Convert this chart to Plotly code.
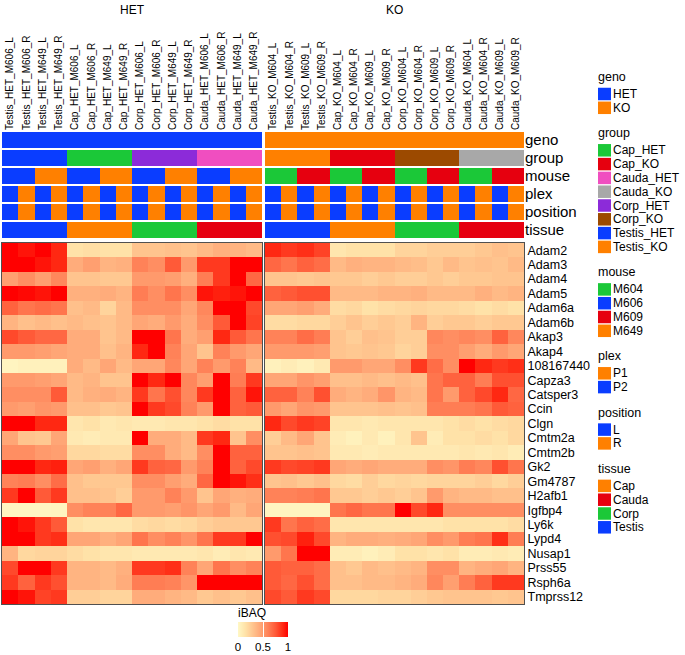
import plotly.graph_objects as go

W, H = 685, 655

# ---------------- data ----------------
tissues = ["Testis", "Cap", "Corp", "Cauda"]
het_mice = ["M606", "M649"]
ko_mice = ["M604", "M609"]
positions = ["L", "R"]
het_samples = [f"{t}_HET_{m}_{p}" for t in tissues for m in het_mice for p in positions]
ko_samples = [f"{t}_KO_{m}_{p}" for t in tissues for m in ko_mice for p in positions]

genes = ["Adam2", "Adam3", "Adam4", "Adam5", "Adam6a", "Adam6b", "Akap3", "Akap4",
         "108167440", "Capza3", "Catsper3", "Ccin", "Clgn", "Cmtm2a", "Cmtm2b", "Gk2",
         "Gm4787", "H2afb1", "Igfbp4", "Ly6k", "Lypd4", "Nusap1", "Prss55", "Rsph6a", "Tmprss12"]

# values per gene: 16 HET columns then 16 KO columns (Testis, Cap, Corp, Cauda x 4)
Adam2 = [1.0, 0.95, 1.0, 0.9, 0.15, 0.17, 0.15, 0.15, 0.3, 0.3, 0.32, 0.3, 0.35, 0.4, 0.38, 0.35,
         0.9, 0.85, 0.88, 0.82, 0.12, 0.15, 0.15, 0.15, 0.22, 0.22, 0.25, 0.25, 0.25, 0.28, 0.32, 0.3]
Adam3 = [1.0, 1.0, 0.95, 0.9, 0.42, 0.48, 0.38, 0.4, 0.6, 0.55, 0.75, 0.5, 0.85, 0.85, 1.0, 1.0,
         0.7, 0.65, 0.72, 0.68, 0.35, 0.4, 0.38, 0.38, 0.35, 0.33, 0.28, 0.35, 0.3, 0.32, 0.3, 0.35]
Adam4 = [0.48, 0.55, 0.48, 0.58, 0.3, 0.3, 0.28, 0.28, 0.5, 0.5, 0.48, 0.4, 0.62, 0.85, 1.0, 0.7,
         0.3, 0.3, 0.28, 0.3, 0.28, 0.28, 0.25, 0.28, 0.25, 0.25, 0.28, 0.25, 0.28, 0.28, 0.3, 0.3]
Adam5 = [1.0, 0.98, 0.95, 1.0, 0.4, 0.4, 0.42, 0.38, 0.62, 0.55, 0.65, 0.55, 0.95, 0.92, 0.95, 1.0,
         0.72, 0.75, 0.78, 0.78, 0.35, 0.35, 0.35, 0.38, 0.38, 0.4, 0.35, 0.35, 0.35, 0.4, 0.35, 0.38]
Adam6a = [0.72, 0.65, 0.68, 0.65, 0.32, 0.35, 0.22, 0.35, 0.55, 0.55, 0.55, 0.45, 0.58, 1.0, 1.0, 0.8,
          0.45, 0.45, 0.48, 0.42, 0.18, 0.2, 0.15, 0.18, 0.2, 0.22, 0.2, 0.2, 0.18, 0.15, 0.18, 0.15]
Adam6b = [0.38, 0.32, 0.35, 0.32, 0.35, 0.32, 0.3, 0.35, 0.45, 0.42, 0.5, 0.42, 0.55, 0.75, 1.0, 0.82,
          0.18, 0.18, 0.2, 0.2, 0.25, 0.3, 0.25, 0.28, 0.25, 0.38, 0.25, 0.28, 0.28, 0.25, 0.28, 0.28]
Akap3 = [0.8, 0.75, 0.7, 0.7, 0.42, 0.42, 0.3, 0.35, 1.0, 1.0, 0.65, 0.42, 0.48, 0.9, 0.75, 0.65,
         0.6, 0.6, 0.68, 0.62, 0.3, 0.25, 0.32, 0.3, 0.25, 0.25, 0.58, 0.55, 0.58, 0.55, 0.72, 0.58]
Akap4 = [0.5, 0.5, 0.48, 0.45, 0.42, 0.42, 0.32, 0.38, 0.9, 1.0, 0.6, 0.45, 0.3, 0.6, 0.5, 0.45,
         0.5, 0.5, 0.5, 0.48, 0.3, 0.28, 0.3, 0.28, 0.22, 0.25, 0.55, 0.55, 0.48, 0.42, 0.5, 0.45]
G108167440 = [0.03, 0.05, 0.05, 0.05, 0.42, 0.35, 0.45, 0.35, 0.45, 0.45, 0.58, 0.45, 0.6, 0.5, 0.6, 0.35,
              0.05, 0.08, 0.05, 0.1, 0.5, 0.5, 0.45, 0.45, 0.55, 0.85, 0.68, 0.55, 1.0, 0.9, 0.85, 0.88]
Capza3 = [0.5, 0.5, 0.48, 0.45, 0.35, 0.38, 0.3, 0.3, 1.0, 0.9, 1.0, 0.58, 0.48, 1.0, 0.62, 0.85,
          0.45, 0.45, 0.52, 0.48, 0.32, 0.32, 0.35, 0.32, 0.35, 0.32, 0.65, 0.72, 0.72, 0.62, 0.78, 0.78]
Catsper3 = [0.55, 0.55, 0.55, 0.75, 0.35, 0.4, 0.42, 0.38, 0.85, 0.65, 0.78, 0.58, 0.85, 1.0, 0.72, 0.95,
            0.72, 0.72, 0.6, 0.78, 0.42, 0.38, 0.42, 0.52, 0.38, 0.35, 0.65, 0.5, 0.72, 0.8, 0.9, 0.7]
Ccin = [0.5, 0.48, 0.52, 0.5, 0.32, 0.32, 0.28, 0.3, 1.0, 0.85, 0.8, 0.6, 0.5, 1.0, 0.72, 0.75,
        0.5, 0.45, 0.52, 0.5, 0.3, 0.3, 0.3, 0.32, 0.3, 0.32, 0.62, 0.62, 0.62, 0.65, 0.75, 0.72]
Clgn = [1.0, 1.0, 0.9, 0.9, 0.12, 0.15, 0.1, 0.12, 0.1, 0.1, 0.12, 0.12, 0.15, 0.18, 0.15, 0.15,
        0.9, 0.8, 0.85, 0.82, 0.12, 0.12, 0.1, 0.12, 0.12, 0.12, 0.12, 0.15, 0.18, 0.15, 0.18, 0.2]
Cmtm2a = [0.45, 0.3, 0.28, 0.45, 0.1, 0.08, 0.1, 0.1, 1.0, 0.42, 0.42, 0.35, 0.85, 0.9, 0.3, 0.55,
          0.25, 0.35, 0.45, 0.3, 0.08, 0.05, 0.1, 0.05, 0.12, 0.3, 0.08, 0.15, 0.15, 0.18, 0.15, 0.2]
Cmtm2b = [0.55, 0.55, 0.5, 0.48, 0.2, 0.2, 0.18, 0.18, 0.55, 0.55, 0.42, 0.35, 0.55, 1.0, 0.72, 0.72,
          0.3, 0.3, 0.32, 0.3, 0.1, 0.1, 0.08, 0.1, 0.1, 0.1, 0.1, 0.1, 0.12, 0.1, 0.12, 0.08]
Gk2 = [1.0, 1.0, 0.9, 0.92, 0.45, 0.48, 0.4, 0.45, 0.85, 0.72, 0.7, 0.5, 0.6, 1.0, 0.72, 0.8,
       0.85, 0.8, 0.82, 0.85, 0.45, 0.42, 0.45, 0.42, 0.42, 0.42, 0.55, 0.52, 0.62, 0.58, 0.78, 0.65]
Gm4787 = [0.6, 0.62, 0.55, 0.68, 0.32, 0.28, 0.28, 0.28, 0.55, 0.55, 0.48, 0.42, 0.7, 1.0, 0.95, 0.88,
          0.3, 0.32, 0.28, 0.32, 0.2, 0.18, 0.25, 0.2, 0.22, 0.2, 0.22, 0.22, 0.22, 0.25, 0.2, 0.25]
H2afb1 = [0.85, 1.0, 0.75, 0.85, 0.32, 0.32, 0.3, 0.25, 0.5, 0.5, 0.6, 0.5, 0.3, 0.45, 0.4, 0.42,
          0.6, 0.6, 0.62, 0.65, 0.28, 0.28, 0.25, 0.28, 0.25, 0.3, 0.5, 0.38, 0.35, 0.35, 0.32, 0.32]
Igfbp4 = [0.02, 0.02, 0.02, 0.03, 0.55, 0.6, 0.6, 0.7, 0.5, 0.5, 0.48, 0.52, 0.45, 0.5, 0.35, 0.45,
          0.03, 0.03, 0.03, 0.03, 0.65, 0.7, 0.65, 0.65, 1.0, 0.8, 0.9, 0.55, 0.55, 0.55, 0.55, 0.55]
Ly6k = [1.0, 0.95, 0.85, 0.75, 0.15, 0.12, 0.12, 0.12, 0.18, 0.2, 0.18, 0.2, 0.25, 0.28, 0.28, 0.28,
        0.85, 0.65, 0.72, 0.68, 0.12, 0.12, 0.12, 0.12, 0.12, 0.12, 0.12, 0.15, 0.15, 0.15, 0.15, 0.18]
Lypd4 = [1.0, 1.0, 0.85, 0.88, 0.45, 0.45, 0.4, 0.45, 0.65, 0.55, 0.6, 0.52, 0.65, 0.85, 0.85, 1.0,
         0.78, 0.8, 0.92, 0.8, 0.38, 0.42, 0.42, 0.4, 0.42, 0.45, 0.55, 0.5, 0.62, 0.65, 0.88, 0.62]
Nusap1 = [0.38, 0.2, 0.22, 0.22, 0.18, 0.15, 0.12, 0.12, 0.1, 0.1, 0.1, 0.1, 0.12, 0.08, 0.12, 0.1,
          0.5, 0.65, 1.0, 1.0, 0.08, 0.08, 0.05, 0.08, 0.15, 0.15, 0.12, 0.15, 0.08, 0.08, 0.1, 0.08]
Prss55 = [0.8, 1.0, 1.0, 0.85, 0.38, 0.38, 0.35, 0.4, 0.85, 0.85, 0.88, 0.6, 0.45, 0.65, 0.55, 0.6,
          0.75, 0.72, 0.72, 0.68, 0.32, 0.28, 0.35, 0.32, 0.35, 0.38, 0.55, 0.55, 0.38, 0.42, 0.45, 0.38]
Rsph6a = [0.85, 0.72, 0.85, 0.78, 0.38, 0.38, 0.35, 0.42, 0.62, 0.62, 0.6, 0.52, 1.0, 1.0, 1.0, 1.0,
          0.75, 0.7, 0.78, 0.68, 0.32, 0.32, 0.35, 0.35, 0.38, 0.42, 0.58, 0.48, 0.62, 0.72, 0.85, 0.85]
Tmprss12 = [1.0, 0.95, 0.82, 0.85, 0.25, 0.25, 0.22, 0.22, 0.42, 0.42, 0.38, 0.35, 0.28, 0.32, 0.28, 0.32,
            0.8, 0.75, 0.85, 0.8, 0.2, 0.2, 0.2, 0.22, 0.22, 0.25, 0.28, 0.3, 0.3, 0.3, 0.28, 0.3]

rows = [Adam2, Adam3, Adam4, Adam5, Adam6a, Adam6b, Akap3, Akap4, G108167440, Capza3,
        Catsper3, Ccin, Clgn, Cmtm2a, Cmtm2b, Gk2, Gm4787, H2afb1, Igfbp4, Ly6k, Lypd4,
        Nusap1, Prss55, Rsph6a, Tmprss12]

tracks = ["geno", "group", "mouse", "plex", "position", "tissue"]

# ---------------- colours ----------------
BLUE, ORANGE, GREEN, RED = "#0A3DFF", "#FF8000", "#1BC838", "#E6000F"
PINK, GREY, PURPLE, BROWN = "#F04EC0", "#A8A8A8", "#8C2BD9", "#9C4A00"
palettes = {
    "geno": {"HET": BLUE, "KO": ORANGE},
    "group": {"Cap_HET": GREEN, "Cap_KO": RED, "Cauda_HET": PINK, "Cauda_KO": GREY,
              "Corp_HET": PURPLE, "Corp_KO": BROWN, "Testis_HET": BLUE, "Testis_KO": ORANGE},
    "mouse": {"M604": GREEN, "M606": BLUE, "M609": RED, "M649": ORANGE},
    "plex": {"P1": ORANGE, "P2": BLUE},
    "position": {"L": BLUE, "R": ORANGE},
    "tissue": {"Cap": ORANGE, "Cauda": RED, "Corp": GREEN, "Testis": BLUE},
}
heat_scale = [[0.0, "#FFF8C6"], [0.15, "#FFE2A8"], [0.3, "#FFC48E"], [0.45, "#FFA676"],
              [0.6, "#FF8258"], [0.75, "#FF5A38"], [0.9, "#FF2812"], [1.0, "#FF0000"]]
FONT = "Liberation Sans, Arial, sans-serif"


def annot_values(sample):
    t, g, m, p = sample.split("_")
    return {"geno": g, "group": f"{t}_{g}", "mouse": m,
            "plex": "P2" if p == "L" else "P1", "position": p, "tissue": t}


colors = [BLUE, ORANGE, GREEN, RED, PINK, GREY, PURPLE, BROWN]
ncol = len(colors)
annot_scale = []
for i, c in enumerate(colors):
    annot_scale += [[i / ncol, c], [(i + 1) / ncol, c]]


def annot_matrix(samples):
    z, txt = [], []
    for tr in tracks:
        vals = [annot_values(s)[tr] for s in samples]
        z.append([colors.index(palettes[tr][v]) for v in vals])
        txt.append(vals)
    return z, txt


def px_x(v):
    return v / W


def px_y(v):
    return 1 - v / H


fig = go.Figure()

n_het = len(het_samples)
het_z = [r[:n_het] for r in rows]
ko_z = [r[n_het:] for r in rows]

fig.add_trace(go.Heatmap(z=het_z, x=het_samples, y=genes, xaxis="x", yaxis="y",
                         colorscale=heat_scale, zmin=0, zmax=1, showscale=True,
                         colorbar=dict(orientation="h", x=px_x(263), xanchor="center",
                                       y=px_y(622), yanchor="top", xref="paper", yref="paper",
                                       len=50, lenmode="pixels", thickness=15,
                                       xpad=0, ypad=0, outlinewidth=0,
                                       tickvals=[0, 0.5, 1], ticktext=["0", "0.5", "1"],
                                       ticks="inside", ticklen=15, tickcolor="white", tickwidth=1,
                                       tickfont=dict(size=11.5, family=FONT, color="black"))))
fig.add_trace(go.Heatmap(z=ko_z, x=ko_samples, y=genes, xaxis="x2", yaxis="y2",
                         colorscale=heat_scale, zmin=0, zmax=1, showscale=False))

for samples, xa, ya in [(het_samples, "x3", "y3"), (ko_samples, "x4", "y4")]:
    z, txt = annot_matrix(samples)
    fig.add_trace(go.Heatmap(z=z, x=samples, y=tracks, text=txt, xaxis=xa, yaxis=ya,
                             colorscale=annot_scale, zmin=-0.5, zmax=ncol - 0.5,
                             showscale=False, ygap=2, hovertemplate="%{y}: %{text}<extra></extra>"))

left_dom = [px_x(2), px_x(262)]
right_dom = [px_x(265), px_x(524)]
main_dom = [px_y(604), px_y(243)]
ann_dom = [px_y(239), px_y(131)]
box = dict(showline=True, mirror=True, linecolor="#505050", linewidth=1)

fig.update_layout(
    width=W, height=H, margin=dict(l=0, r=0, t=0, b=0, autoexpand=False),
    paper_bgcolor="white", plot_bgcolor="white", showlegend=False,
    font=dict(family=FONT, color="black"),
    xaxis=dict(domain=left_dom, anchor="y", showticklabels=False, ticks="", showgrid=False,
               zeroline=False, **box),
    yaxis=dict(domain=main_dom, anchor="x", showticklabels=False, ticks="", showgrid=False,
               zeroline=False, autorange="reversed", **box),
    xaxis2=dict(domain=right_dom, anchor="y2", showticklabels=False, ticks="", showgrid=False,
                zeroline=False, **box),
    yaxis2=dict(domain=main_dom, anchor="x2", side="right", ticks="", showgrid=False,
                zeroline=False, autorange="reversed", tickmode="array", tickvals=genes,
                ticktext=genes, tickfont=dict(size=12.5), **box),
    xaxis3=dict(domain=left_dom, anchor="y3", side="top", tickangle=-90, ticks="",
                tickmode="array", tickvals=het_samples, ticktext=het_samples,
                showgrid=False, zeroline=False, tickfont=dict(size=10)),
    yaxis3=dict(domain=ann_dom, anchor="x3", showticklabels=False, ticks="", showgrid=False,
                zeroline=False, autorange="reversed"),
    xaxis4=dict(domain=right_dom, anchor="y4", side="top", tickangle=-90, ticks="",
                tickmode="array", tickvals=ko_samples, ticktext=ko_samples,
                showgrid=False, zeroline=False, tickfont=dict(size=10)),
    yaxis4=dict(domain=ann_dom, anchor="x4", side="right", ticks="", showgrid=False,
                zeroline=False, autorange="reversed", tickmode="array", tickvals=tracks,
                ticktext=tracks, tickfont=dict(size=15)),
)

# column split titles
for xa, label in [("x3", "HET"), ("x4", "KO")]:
    fig.add_annotation(xref=f"{xa} domain", x=0.5, yref="paper", y=px_y(10), text=label,
                       showarrow=False, font=dict(size=12), xanchor="center", yanchor="middle")

# colour bar title
fig.add_annotation(xref="paper", yref="paper", x=px_x(236), y=px_y(613), text="iBAQ",
                   showarrow=False, xanchor="left", yanchor="middle", font=dict(size=12))

# legends (annotation colour keys)
legend_x, key_w, key_h, step = 598, 13, 12.5, 13.8
title_to_first, last_to_next = 17, 25.5
ty = 77
for tr in tracks:
    fig.add_annotation(xref="paper", yref="paper", x=px_x(legend_x - 2), y=px_y(ty), text=tr,
                       showarrow=False, xanchor="left", yanchor="middle", font=dict(size=12.5))
    cy = ty + title_to_first
    for k, (val, col) in enumerate(palettes[tr].items()):
        yc = cy + k * step
        fig.add_shape(type="rect", xref="paper", yref="paper",
                      x0=px_x(legend_x), x1=px_x(legend_x + key_w),
                      y0=px_y(yc - key_h / 2), y1=px_y(yc + key_h / 2),
                      fillcolor=col, line=dict(width=0))
        fig.add_annotation(xref="paper", yref="paper", x=px_x(legend_x + key_w), y=px_y(yc),
                           text=val, showarrow=False, xanchor="left", yanchor="middle",
                           font=dict(size=12))
    ty = cy + (len(palettes[tr]) - 1) * step + last_to_next

fig.write_html("out.html", config={"displayModeBar": False},
               post_script="document.body.style.margin='0';")
